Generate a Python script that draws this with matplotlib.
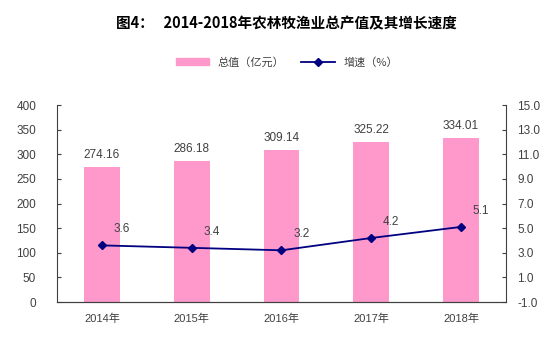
import matplotlib.pyplot as plt
from matplotlib.lines import Line2D
from matplotlib.patches import Patch

plt.rcParams['font.family'] = ['Liberation Sans', 'Noto Sans CJK SC', 'DejaVu Sans']

years = ['2014年', '2015年', '2016年', '2017年', '2018年']
output_value = [274.16, 286.18, 309.14, 325.22, 334.01]
growth = [3.6, 3.4, 3.2, 4.2, 5.1]

bar_color = '#FF99CC'
line_color = '#000080'
text_color = '#404040'

fig = plt.figure(figsize=(5.57, 3.52), dpi=100)
ax = fig.add_axes([0.1023, 0.142, 0.8061, 0.5597])
ax2 = ax.twinx()

x = list(range(len(years)))
ax.bar(x, output_value, width=0.4, color=bar_color, zorder=2)
for xi, v in zip(x, output_value):
    ax.annotate(f'{v:.2f}', (xi, v), xytext=(0, 6), textcoords='offset pixels',
                ha='center', va='bottom', fontsize=8.5, color=text_color)

ax.set_xlim(-0.5, len(years) - 0.5)
ax.set_ylim(0, 400)
ax.set_yticks(range(0, 401, 50))
ax.set_xticks(x)
ax.set_xticklabels(years, family=['Liberation Sans', 'Noto Sans CJK SC'])
ax.tick_params(axis='x', length=0, pad=8, labelsize=8, colors=text_color)
ax.tick_params(axis='y', direction='in', length=3, labelsize=8.5, colors=text_color, pad=15)

ax2.plot(x, growth, color=line_color, linewidth=1.3, marker='D', markersize=4.5, zorder=3)
for xi, v in zip(x, growth):
    ax2.annotate(f'{v:.1f}', (xi, v), xytext=(20, 16), textcoords='offset pixels',
                 ha='center', va='center', fontsize=8.5, color=text_color)
ax2.set_ylim(-1, 15)
ax2.set_yticks(range(-1, 16, 2))
ax2.set_yticklabels([f'{t:.1f}' for t in range(-1, 16, 2)])
ax2.tick_params(axis='y', direction='in', length=3, labelsize=8.5, colors=text_color, pad=8)

for a in (ax, ax2):
    a.spines['top'].set_visible(False)
    for s in ('left', 'right', 'bottom'):
        a.spines[s].set_color('#404040')
        a.spines[s].set_linewidth(0.8)
ax.spines['right'].set_visible(False)
ax2.spines['left'].set_visible(False)

fig.text(0.515, 0.935, '图4：   2014-2018年农林牧渔业总产值及其增长速度',
         ha='center', va='center', fontsize=10.5, fontweight='bold',
         family=['Noto Sans CJK SC'], color='black')

handles = [Patch(color=bar_color),
           Line2D([0], [0], color=line_color, marker='D', markersize=4, linewidth=1.3)]
fig.legend(handles, ['总值（亿元）', '增速（%）'], loc='center', bbox_to_anchor=(0.515, 0.823),
           ncol=2, frameon=False, handlelength=3, handleheight=0.6,
           columnspacing=1.5, prop={'family': ['Noto Sans CJK SC'], 'size': 8},
           labelcolor=text_color)

fig.savefig('out.png', dpi=100)
